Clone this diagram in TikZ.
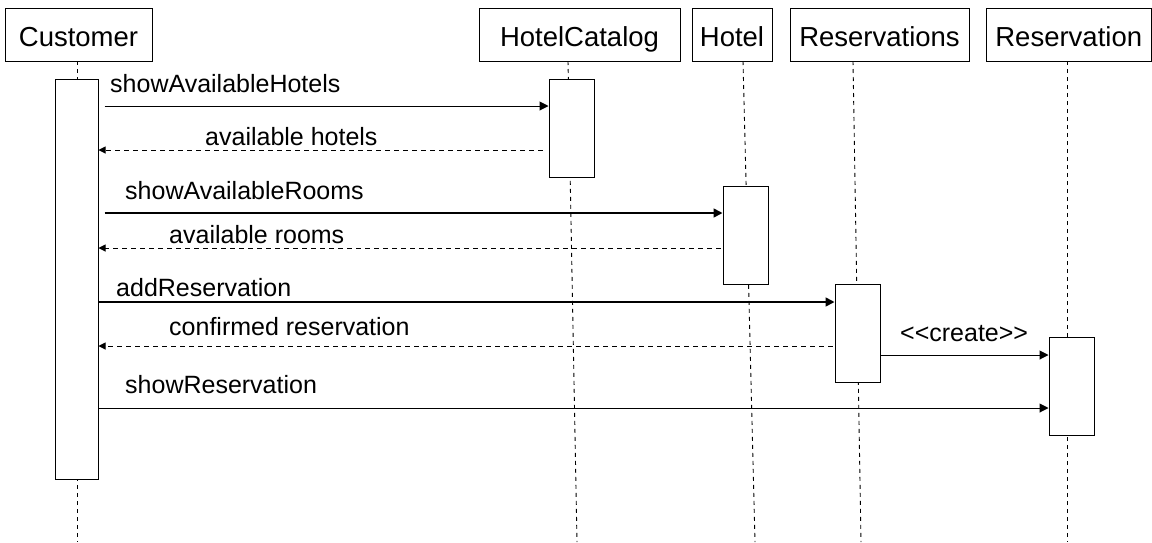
\documentclass[tikz,border=0pt]{standalone}
\usepackage{fontspec}
\setmainfont{Liberation Sans}
\usetikzlibrary{arrows.meta}
\begin{document}
\begin{tikzpicture}[x=1pt,y=-1pt,
  head/.style={draw, line width=1pt, fill=white, minimum height=53pt, inner sep=0pt,
    text height=23pt, text depth=0pt, font=\fontsize{27.5}{30}\selectfont},
  act/.style={draw, line width=1pt, fill=white, minimum width=45pt, inner sep=0pt},
  life/.style={line width=0.9pt, dash pattern=on 4pt off 4pt},
  call/.style={line width=1pt, -{Triangle[length=9pt,width=9pt]}},
  bigcall/.style={call, line width=1.6pt},
  reply/.style={line width=1pt, dash pattern=on 5pt off 4pt, -{Triangle[length=7pt,width=7pt]}},
  lbl/.style={anchor=base west, inner sep=0pt, font=\fontsize{25}{28}\selectfont}]

\fill[white] (0,0) rectangle (1152,542);
\useasboundingbox (0,0) rectangle (1152,542);

% lifeline end points
\coordinate (custA) at (77,61);   \coordinate (custB) at (77,542);
\coordinate (catA)  at (568,61);  \coordinate (catB)  at (577,542);
\coordinate (hotA)  at (743,61);  \coordinate (hotB)  at (755,542);
\coordinate (rsA)   at (853,61);  \coordinate (rsB)   at (861,542);
\coordinate (rA)    at (1067,61); \coordinate (rB)    at (1067,542);

\draw[life] (custA) -- (custB);
\draw[life] (catA) -- (catB);
\draw[life] (hotA) -- (hotB);
\draw[life] (rsA) -- (rsB);
\draw[life] (rA) -- (rB);

% participants
\node[head, minimum width=147pt] (cust) at (78.5,34.5) {Customer};
\node[head, minimum width=201pt] (cat)  at (579.5,34.5) {HotelCatalog};
\node[head, minimum width=80pt]  (hot)  at (732,34.5) {Hotel};
\node[head, minimum width=179pt] (rs)   at (879.5,34.5) {Reservations};
\node[head, minimum width=165pt] (res)  at (1068.75,34.5) {Reservation};

% activation bars
\node[act, minimum width=43pt, minimum height=400pt] (cact)  at (76.5,279) {};
\node[act, minimum height=98pt] (catact) at (571.5,128) {};
\node[act, minimum height=98pt] (hact)   at (745.5,235) {};
\node[act, minimum height=98pt] (rsact)  at (857.5,333) {};
\node[act, minimum height=98pt] (ract)   at (1071.5,386) {};

% message levels
\coordinate (y1) at (0,106);
\coordinate (y2) at (0,150);
\coordinate (y3) at (0,213);
\coordinate (y4) at (0,248);
\coordinate (y5) at (0,302);
\coordinate (y6) at (0,346);
\coordinate (y7) at (0,355);
\coordinate (y8) at (0,408);

% messages
\draw[call]    ([xshift=6pt]cact.east |- y1) -- (catact.west |- y1);
\draw[reply]   ([xshift=-6pt]catact.west |- y2) -- (cact.east |- y2);
\draw[bigcall] ([xshift=6pt]cact.east |- y3) -- (hact.west |- y3);
\draw[reply]   ([xshift=-2pt]hact.west |- y4) -- (cact.east |- y4);
\draw[bigcall] (cact.east |- y5) -- (rsact.west |- y5);
\draw[reply]   ([xshift=-2pt]rsact.west |- y6) -- (cact.east |- y6);
\draw[call]    (rsact.east |- y7) -- (ract.west |- y7);
\draw[call]    (cact.east |- y8) -- (ract.west |- y8);

% message labels
\node[lbl] (l1) at (110,92)  {showAvailableHotels};
\node[lbl] (l2) at (205,145) {available hotels};
\node[lbl] (l3) at (125,199) {showAvailableRooms};
\node[lbl] (l4) at (169,243) {available rooms};
\node[lbl] (l5) at (116,296) {addReservation};
\node[lbl] (l6) at (169,335) {confirmed reservation};
\node[lbl] (l7) at (900,341) {<{}<create>{}>};
\node[lbl] (l8) at (125,393) {showReservation};
\end{tikzpicture}
\end{document}
